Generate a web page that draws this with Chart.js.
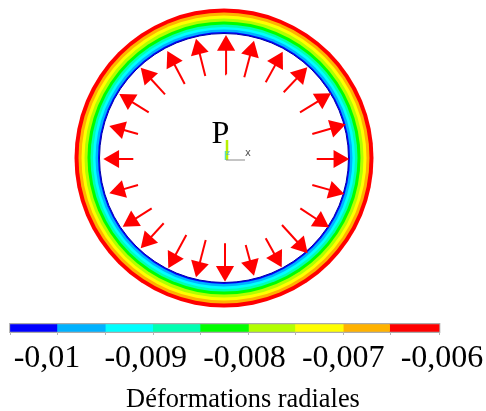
<!DOCTYPE html>
<html><head><meta charset="utf-8">
<script src="https://cdn.jsdelivr.net/npm/chart.js@4"></script>
<style>
html,body{margin:0;padding:0;background:#fff;width:486px;height:411px;overflow:hidden}
#wrap{position:relative;width:486px;height:411px;overflow:hidden}
#wrap div{position:absolute;left:0;width:486px}
canvas{display:block}
</style></head><body>
<div id="wrap">
<div style="top:0;height:318px"><canvas id="ring" width="486" height="318"></canvas></div>
<div style="top:318px;height:98px"><canvas id="bar" width="486" height="98"></canvas></div>
</div>
<script>
// band colours, shared by the cross-section contours and the colour bar
const bandColors = ['#0000ff','#00b2ff','#00ffff','#00ffb2','#00ff00','#b2ff00','#ffff00','#ffb200','#ff0000'];
// outer radius of each contour band, inner to outer
const bandOuterRadii = [126,128.5,131,133.5,136.5,139.5,142.5,145.5,149.5];
const boreRadius = 124.5;
// colour-bar band edges and tick labels
const bandEdges = [-0.01037,-0.0099,-0.00941,-0.00893,-0.00845,-0.00796,-0.00749,-0.007,-0.00653,-0.00603];
const tickValues = [-0.01,-0.009,-0.008,-0.007,-0.006];
const axisTitle = 'Déformations radiales';
// arrows, centred on the tube axis
const tailX = [2.3,-18.7,-39.3,-59,-75.3,-86,-90.7,-86,-72.3,-60.3,-37.7,-18.3,1,21.7,41.7,58,76.3,88.3,92.7,88.3,76,59.7,41.7,20.3];
const tailY = [83.7,82,74,63.7,45.7,24,-1,-27,-50.3,-65.3,-77,-82,-85.3,-87,-80.3,-67,-50.3,-27,-1,24,45.7,65.7,75.7,80.7];
const tipX  = [2,-28,-56.7,-83.3,-104.7,-114.7,-120.7,-114.7,-101.3,-83.3,-55.7,-28,1,30,57.7,83.7,105,120.3,125.3,121.7,107,83.3,58.7,30];
const tipY  = [123,119.3,107,90.3,64,32,-1,-35.3,-68.7,-90.3,-110.3,-119.3,-123.7,-117.7,-109.3,-95.3,-69.3,-36,-1,33.7,64.7,90.7,106.3,117.3];
const headSize = 10.5;

const serif = '"Liberation Serif","Times New Roman",serif';
const heads = tailX.map((_, i) => {
  const dx = tipX[i]-tailX[i], dy = tipY[i]-tailY[i], len = Math.hypot(dx,dy);
  return {x: tipX[i]-dx/len*headSize, y: tipY[i]-dy/len*headSize, rot: Math.atan2(dx,dy)*180/Math.PI};
});

const datasets = [];
// triad at the centre
const triad = [
  {c:'#8a8a8a', w:1, pts:[[2,-2],[21,-2]]},
  {c:'#b8f000', w:2.5, pts:[[3,18],[3,-2]]},
  {c:'#40d8e8', w:1.5, pts:[[1.5,7],[1.5,-2]]}
];
triad.forEach(t => datasets.push({type:'scatter',showLine:true,order:1,data:t.pts.map(p=>({x:p[0],y:p[1]})),borderColor:t.c,borderWidth:t.w,pointRadius:0}));
// arrow shafts
tailX.forEach((_,i) => datasets.push({type:'scatter',showLine:true,order:2,
  data:[{x:tailX[i],y:tailY[i]},{x:heads[i].x,y:heads[i].y}],borderColor:'#ff0000',borderWidth:2,pointRadius:0}));
// arrow heads
datasets.push({type:'scatter',order:1,data:heads.map(h=>({x:h.x,y:h.y})),pointStyle:'triangle',pointRadius:headSize,
  pointRotation:heads.map(h=>h.rot),backgroundColor:'#ff0000',borderColor:'#ff0000',borderWidth:0});
// bore
datasets.push({type:'bubble',order:3,data:[{x:0,y:0,r:boreRadius}],backgroundColor:'#ffffff',borderColor:'#0000a8',borderWidth:1});
// bands, drawn largest first
bandOuterRadii.forEach((r,i) => datasets.push({type:'bubble',order:4+i,data:[{x:0,y:0,r}],
  backgroundColor:bandColors[i],borderWidth:0,borderColor:bandColors[i]}));

const labelsPlugin = {id:'labels',afterDatasetsDraw(c){
  const {ctx,scales:{x,y}} = c;
  ctx.save();ctx.textAlign='center';ctx.textBaseline='alphabetic';
  ctx.fillStyle='#000';ctx.font='32px '+serif;ctx.fillText('P',x.getPixelForValue(-3.5),y.getPixelForValue(15));
  ctx.fillStyle='#555';ctx.font='10px "DejaVu Sans",sans-serif';ctx.fillText('x',x.getPixelForValue(24),y.getPixelForValue(2));
  ctx.fillStyle='#30b0e0';ctx.font='7px "DejaVu Sans",sans-serif';ctx.fillText('z',x.getPixelForValue(4),y.getPixelForValue(3));
  ctx.restore();
}};

new Chart(document.getElementById('ring'),{
  type:'scatter',
  data:{datasets},
  plugins:[labelsPlugin],
  options:{responsive:false,animation:false,devicePixelRatio:1,layout:{padding:0,autoPadding:false},events:[],
    plugins:{legend:{display:false},tooltip:{enabled:false}},
    scales:{x:{type:'linear',display:false,min:-224,max:262},y:{type:'linear',display:false,min:-160,max:158}}
  }
});

const barDatasets = [{data:[[bandEdges[0]-0.00001,bandEdges[9]+0.00001]],backgroundColor:'#ababab',barThickness:10,order:20,grouped:false}];
bandColors.forEach((col,i)=>barDatasets.push({data:[[bandEdges[i],bandEdges[i+1]]],backgroundColor:col,barThickness:7,order:1,grouped:false}));

const edgeTicks = {id:'edgeTicks',afterDatasetsDraw(c){
  const {ctx,chartArea,scales:{x}} = c;
  ctx.save();ctx.strokeStyle='#b5b5b5';ctx.lineWidth=1;
  bandEdges.forEach(v=>{const p=Math.round(x.getPixelForValue(v))+0.5;
    ctx.beginPath();ctx.moveTo(p,chartArea.bottom-1);ctx.lineTo(p,chartArea.bottom+2);ctx.stroke();});
  ctx.restore();
}};

new Chart(document.getElementById('bar'),{
  type:'bar',
  data:{labels:['bande'],datasets:barDatasets},
  plugins:[edgeTicks],
  options:{indexAxis:'y',responsive:false,animation:false,devicePixelRatio:1,events:[],
    layout:{padding:{top:5,bottom:0,left:0,right:0}},
    plugins:{legend:{display:false},tooltip:{enabled:false}},
    scales:{
      y:{display:false,stacked:false},
      x:{type:'linear',min:-0.010476,max:-0.005554,
        afterBuildTicks(s){s.ticks=tickValues.map(value=>({value}));},
        afterFit(s){s.height=83;s.paddingLeft=0;s.paddingRight=0;},
        grid:{display:false,drawTicks:false},border:{display:false},
        ticks:{color:'#000',font:{family:serif,size:32},padding:6,maxRotation:0,autoSkip:false,
          callback:v=>String(v).replace('.',',')},
        title:{display:true,text:axisTitle,color:'#000',font:{family:serif,size:26.4},padding:{top:0,bottom:0}}
      }
    }
  }
});
</script>
</body></html>
